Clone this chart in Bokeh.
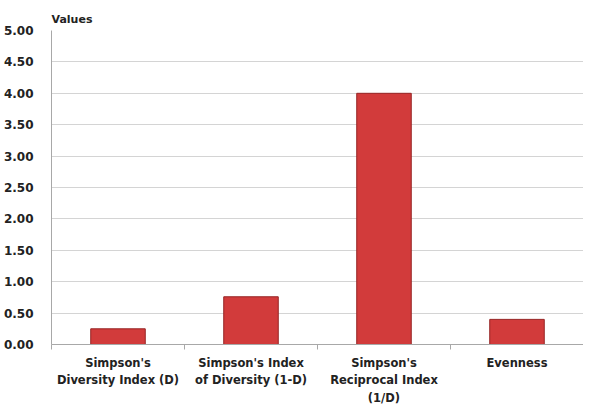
from bokeh.plotting import figure
from bokeh.models import FactorRange, Range1d, LinearAxis, CategoricalAxis, FixedTicker, NumeralTickFormatter, ColumnDataSource
from bokeh.embed import file_html
from bokeh.resources import INLINE

categories = ["Simpson's\nDiversity Index (D)", "Simpson's Index\nof Diversity (1-D)",
              "Simpson's\nReciprocal Index\n(1/D)", "Evenness"]
values = [0.25, 0.76, 4.0, 0.40]
y_ticks = [0, 0.5, 1, 1.5, 2, 2.5, 3, 3.5, 4, 4.5, 5]
boundaries = [0, 1, 2, 3, 4]

FONT = "DejaVu Sans"
src = ColumnDataSource(dict(cat=categories, val=values))

p = figure(x_range=FactorRange(*categories), y_range=Range1d(0, 5),
           frame_width=532, frame_height=314, output_backend="svg", toolbar_location=None,
           x_axis_location=None, y_axis_location=None,
           min_border_left=50, min_border_right=0, min_border_top=30, min_border_bottom=50)
p.outline_line_color = None
p.background_fill_color = "white"

p.vbar(x="cat", top="val", width=0.41, source=src,
       fill_color="#d23b3b", line_color="#962424", line_width=1)

# y axis
yax = LinearAxis(ticker=FixedTicker(ticks=y_ticks),
                 formatter=NumeralTickFormatter(format="0.00"))
yax.axis_line_color = "#a8a8a8"
yax.major_tick_line_color = None
yax.minor_tick_line_color = None
yax.major_label_text_font = FONT
yax.major_label_text_font_style = "bold"
yax.major_label_text_font_size = "12px"
yax.major_label_text_color = "#222222"
yax.major_label_standoff = 12
p.add_layout(yax, "left")

# x tick axis (separators between categories)
tax = LinearAxis(ticker=FixedTicker(ticks=boundaries))
tax.axis_line_color = "#a8a8a8"
tax.major_tick_line_color = "#a8a8a8"
tax.major_tick_in = 0
tax.major_tick_out = 5
tax.minor_tick_line_color = None
tax.major_label_overrides = {b: "" for b in boundaries}
tax.major_label_standoff = 0
p.add_layout(tax, "below")

# x label axis
xax = CategoricalAxis()
xax.axis_line_color = None
xax.major_tick_line_color = None
xax.major_label_text_font = FONT
xax.major_label_text_font_style = "bold"
xax.major_label_text_font_size = "11.5px"
xax.major_label_text_line_height = 1.25
xax.major_label_text_color = "#222222"
xax.major_label_standoff = 0
p.add_layout(xax, "below")

p.xgrid.grid_line_color = None
p.ygrid.ticker = FixedTicker(ticks=y_ticks)
p.ygrid.grid_line_color = "#d4d4d4"

p.title.text = "Values"
p.title.text_font = FONT
p.title.text_font_style = "bold"
p.title.text_font_size = "11px"
p.title.text_color = "#222222"
p.title.align = "left"

open("out.html", "w").write(file_html(p, INLINE))
